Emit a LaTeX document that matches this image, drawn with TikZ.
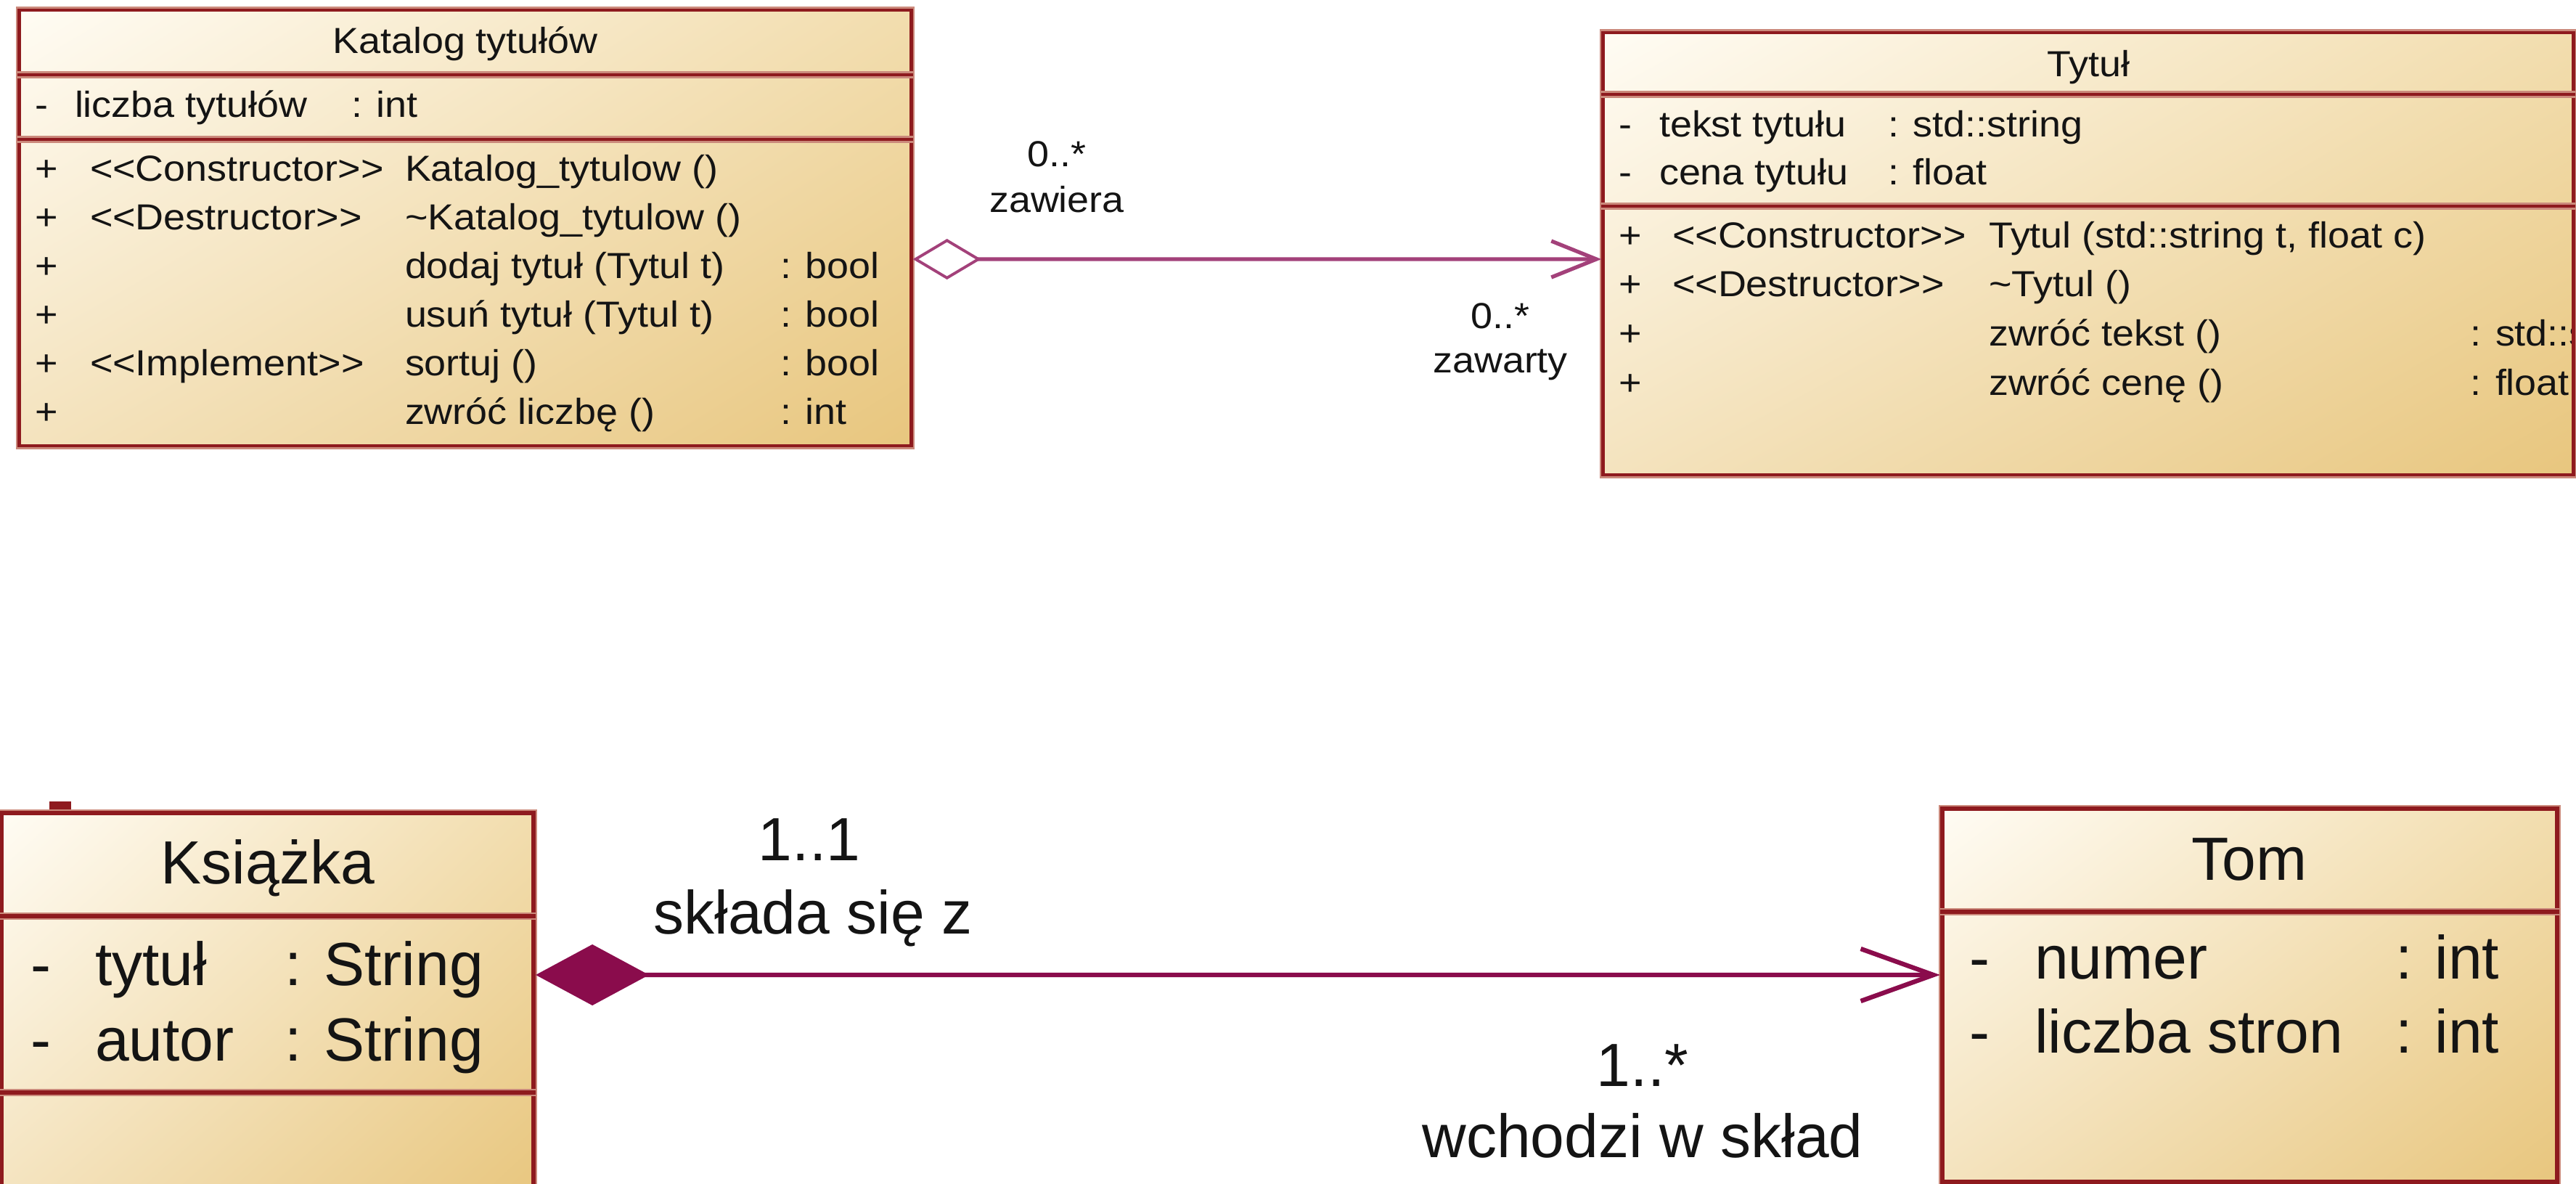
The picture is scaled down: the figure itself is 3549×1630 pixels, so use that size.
\documentclass[tikz,border=0pt]{standalone}
\usepackage{fontspec}
\setmainfont{Liberation Sans}
\newfontfamily\umlfont[FakeStretch=1.08]{Liberation Sans}
\usetikzlibrary{arrows.meta,shadings}

\definecolor{boxline}{HTML}{8E1A1E}
\definecolor{boxhalo}{HTML}{CB8A7C}
\definecolor{fillUL}{HTML}{FFFCF4}
\definecolor{fillUR}{HTML}{F2DDAE}
\definecolor{fillLL}{HTML}{F4E3BE}
\definecolor{fillLR}{HTML}{E8C67E}
\definecolor{txtcol}{HTML}{141414}
\definecolor{aggcol}{HTML}{A3417A}
\definecolor{compcol}{HTML}{8A0C4C}

\tikzset{
  classbox/.style={draw=boxline, line width=1.3pt, inner sep=0pt,
    preaction={draw=boxhalo, line width=2.6pt},
    shade, upper left=fillUL, upper right=fillUR,
    lower left=fillLL, lower right=fillLR},
  sepline/.style={draw=boxline, line width=1.2pt,
    preaction={draw=boxhalo, line width=2.8pt}},
  smalltxt/.style={anchor=base west, inner sep=0pt, outer sep=0pt, text=txtcol,
    font=\umlfont\fontsize{14.2pt}{17pt}\selectfont},
  smallttl/.style={smalltxt, anchor=base},
  bigtxt/.style={anchor=base west, inner sep=0pt, outer sep=0pt, text=txtcol,
    font=\fontsize{23.9pt}{28pt}\selectfont},
  bigttl/.style={bigtxt, anchor=base},
  aggline/.style={draw=aggcol, line width=1.5pt,
    {Diamond[fill=white, length=0.94cm, width=0.56cm, line width=1.1pt]}-{Straight Barb[length=0.62cm, width=0.5cm]}},
  compline/.style={draw=compcol, line width=1.8pt,
    {Diamond[fill=compcol, length=1.56cm, width=0.84cm]}-{Straight Barb[length=1.0cm, width=0.72cm]}},
}

\begin{document}
\begin{tikzpicture}[x=0.01cm, y=-0.01cm]
\useasboundingbox (0,0) rectangle (3549,1630);
\clip (0,0) rectangle (3549,1630);

% ---------- class: Katalog tytułów ----------
\node[classbox, minimum width=12.28cm, minimum height=6.00cm] (katalog) at (641,314) {};
\draw[sepline] (katalog.west |- 0,103) -- (katalog.east |- 0,103);
\draw[sepline] (katalog.west |- 0,192) -- (katalog.east |- 0,192);
\node[smallttl] (k-name) at (641,73) {Katalog tytułów};
\node[smalltxt] (k-a1v) at (48,161) {-};
\node[smalltxt] (k-a1n) at (103,161) {liczba tytułów};
\node[smalltxt] (k-a1t) at (484,161) {: int};
\node[smalltxt] (k-o1v) at (48,249) {+};
\node[smalltxt] (k-o1s) at (124,249) {<<Constructor>>};
\node[smalltxt] (k-o1n) at (558,249) {Katalog\_tytulow ()};
\node[smalltxt] (k-o2v) at (48,316) {+};
\node[smalltxt] (k-o2s) at (124,316) {<<Destructor>>};
\node[smalltxt] (k-o2n) at (558,316) {\textasciitilde Katalog\_tytulow ()};
\node[smalltxt] (k-o3v) at (48,383) {+};
\node[smalltxt] (k-o3n) at (558,383) {dodaj tytuł (Tytul t)};
\node[smalltxt] (k-o3t) at (1075,383) {: bool};
\node[smalltxt] (k-o4v) at (48,450) {+};
\node[smalltxt] (k-o4n) at (558,450) {usuń tytuł (Tytul t)};
\node[smalltxt] (k-o4t) at (1075,450) {: bool};
\node[smalltxt] (k-o5v) at (48,517) {+};
\node[smalltxt] (k-o5s) at (124,517) {<<Implement>>};
\node[smalltxt] (k-o5n) at (558,517) {sortuj ()};
\node[smalltxt] (k-o5t) at (1075,517) {: bool};
\node[smalltxt] (k-o6v) at (48,584) {+};
\node[smalltxt] (k-o6n) at (558,584) {zwróć liczbę ()};
\node[smalltxt] (k-o6t) at (1075,584) {: int};

% ---------- class: Tytuł ----------
\node[classbox, minimum width=13.36cm, minimum height=6.09cm] (tytul) at (2877,349.5) {};
\draw[sepline] (tytul.west |- 0,130) -- (tytul.east |- 0,130);
\draw[sepline] (tytul.west |- 0,284) -- (tytul.east |- 0,284);
\begin{scope}
\clip (2212,48) rectangle (3542,651);
\node[smallttl] (t-name) at (2877,105) {Tytuł};
\node[smalltxt] (t-a1v) at (2230,188) {-};
\node[smalltxt] (t-a1n) at (2286,188) {tekst tytułu};
\node[smalltxt] (t-a1t) at (2601,188) {: std::string};
\node[smalltxt] (t-a2v) at (2230,254) {-};
\node[smalltxt] (t-a2n) at (2286,254) {cena tytułu};
\node[smalltxt] (t-a2t) at (2601,254) {: float};
\node[smalltxt] (t-o1v) at (2230,341) {+};
\node[smalltxt] (t-o1s) at (2304,341) {<<Constructor>>};
\node[smalltxt] (t-o1n) at (2740,341) {Tytul (std::string t, float c)};
\node[smalltxt] (t-o2v) at (2230,408) {+};
\node[smalltxt] (t-o2s) at (2304,408) {<<Destructor>>};
\node[smalltxt] (t-o2n) at (2740,408) {\textasciitilde Tytul ()};
\node[smalltxt] (t-o3v) at (2230,476) {+};
\node[smalltxt] (t-o3n) at (2740,476) {zwróć tekst ()};
\node[smalltxt] (t-o3t) at (3403,476) {: std::string};
\node[smalltxt] (t-o4v) at (2230,544) {+};
\node[smalltxt] (t-o4n) at (2740,544) {zwróć cenę ()};
\node[smalltxt] (t-o4t) at (3403,544) {: float};
\end{scope}

% ---------- aggregation ----------
\draw[aggline] ([yshift=-0.43cm]katalog.east) -- ([yshift=-0.075cm]tytul.west);
\node[smallttl] (agg-m1) at (1456,229) {0..*};
\node[smallttl] (agg-r1) at (1456,292) {zawiera};
\node[smallttl] (agg-m2) at (2067,452) {0..*};
\node[smallttl] (agg-r2) at (2067,513) {zawarty};

% ---------- class: Książka ----------
\node[fill=boxline, minimum width=0.3cm, minimum height=0.17cm, inner sep=0pt] (kmark) at (83,1112) {};
\node[classbox, line width=1.6pt, minimum width=7.33cm, minimum height=5.40cm] (ksiazka) at (368.5,1390) {};
\draw[sepline, line width=1.5pt] (ksiazka.west |- 0,1262) -- (ksiazka.east |- 0,1262);
\draw[sepline, line width=1.5pt] (ksiazka.west |- 0,1505) -- (ksiazka.east |- 0,1505);
\node[bigttl] (b-name) at (369,1217) {Książka};
\node[bigtxt] (b-a1v) at (42,1357) {-};
\node[bigtxt] (b-a1n) at (131,1357) {tytuł};
\node[bigtxt] (b-a1t) at (392,1357) {: String};
\node[bigtxt] (b-a2v) at (42,1461) {-};
\node[bigtxt] (b-a2n) at (131,1461) {autor};
\node[bigtxt] (b-a2t) at (392,1461) {: String};

% ---------- class: Tom ----------
\node[classbox, line width=1.6pt, minimum width=8.47cm, minimum height=5.14cm] (tom) at (3099.5,1371) {};
\draw[sepline, line width=1.5pt] (tom.west |- 0,1256) -- (tom.east |- 0,1256);
\node[bigttl] (m-name) at (3099,1212) {Tom};
\node[bigtxt] (m-a1v) at (2713,1348) {-};
\node[bigtxt] (m-a1n) at (2803,1348) {numer};
\node[bigtxt] (m-a1t) at (3300,1348) {: int};
\node[bigtxt] (m-a2v) at (2713,1450) {-};
\node[bigtxt] (m-a2n) at (2803,1450) {liczba stron};
\node[bigtxt] (m-a2t) at (3300,1450) {: int};

% ---------- composition ----------
\draw[compline] ([yshift=0.47cm]ksiazka.east) -- ([yshift=0.28cm]tom.west);
\node[bigttl] (comp-m1) at (1115,1185) {1..1};
\node[bigttl] (comp-r1) at (1120,1286) {składa się z};
\node[bigttl] (comp-m2) at (2263,1496) {1..*};
\node[bigttl] (comp-r2) at (2263,1594) {wchodzi w skład};
\end{tikzpicture}
\end{document}
